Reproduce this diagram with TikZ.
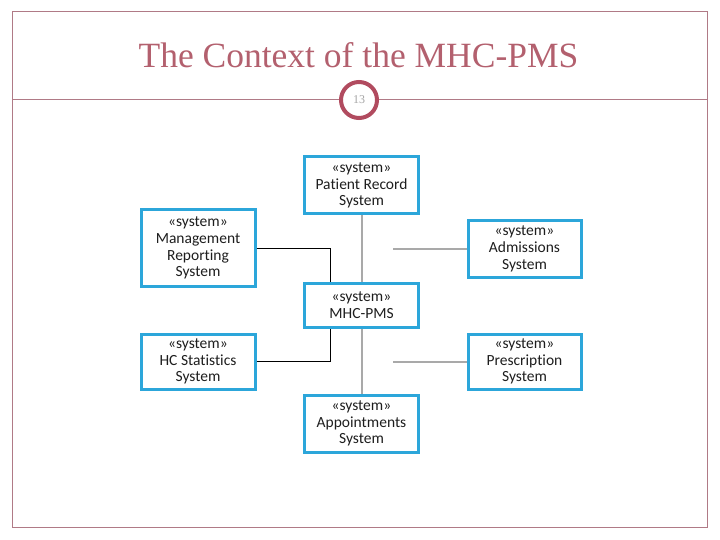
\documentclass[tikz,border=0pt]{standalone}
\usepackage{fontspec}
\usepackage{tikz}
\usetikzlibrary{positioning,calc}
\newfontfamily\titlefont{Liberation Serif}
\newfontfamily\boxfont[Ligatures=NoCommon]{Carlito}
\definecolor{rose}{HTML}{B3606E}
\definecolor{roseLine}{HTML}{B07A86}
\definecolor{roseRing}{HTML}{B14B5F}
\definecolor{sysBlue}{HTML}{2CA6DA}
\definecolor{wireGray}{HTML}{A9A9A9}
\definecolor{ink}{HTML}{1E1E1E}
\tikzset{
  sysbox/.style={rectangle, draw=sysBlue, line width=3pt, fill=white, align=center,
    minimum width=114pt, minimum height=57pt, inner sep=1pt, text=ink,
    font=\boxfont\fontsize{15.5}{16.8}\selectfont},
  lbl/.style={font=\titlefont, text=rose},
}
\begin{document}
\begin{tikzpicture}[x=1pt, y=-1pt,
  wire/.style={wireGray, line width=2pt},
  link/.style={black, line width=0.9pt}]
\useasboundingbox (0,0) rectangle (720,540);
% slide frame and title
\draw[roseLine, line width=1pt] (12,12) rectangle (707,527);
\node[lbl, font=\titlefont\fontsize{35.5}{38}\selectfont] (title) at (358.5,55) {The Context of the MHC-PMS};
\node[circle, draw=roseRing, line width=4pt, fill=white, minimum size=36pt, inner sep=0pt,
  text=gray!70, font=\titlefont\fontsize{12}{12}\selectfont] (page) at (359,100) {13};
\coordinate (ruleL) at (12,100); \coordinate (ruleR) at (707,100);
\draw[roseLine, line width=1pt] (ruleL) -- (page.west);
\draw[roseLine, line width=1pt] (page.east) -- (ruleR);
% systems
\node[sysbox] (prs) at (361.5,185.5) {«system»\\Patient Record\\System};
\node[sysbox, minimum height=76pt] (mgr) at (198,248) {«system»\\Management\\Reporting\\System};
\node[sysbox, minimum height=56pt, minimum width=113pt] (adm) at (524.5,249) {«system»\\Admissions\\System};
\node[sysbox, minimum height=44pt] (mhc) at (361.5,305) {«system»\\MHC-PMS};
\node[sysbox, minimum height=55pt] (hcs) at (198,361.5) {«system»\\HC Statistics\\System};
\node[sysbox, minimum height=55pt, minimum width=113pt] (pre) at (524.5,361.5) {«system»\\Prescription\\System};
\node[sysbox] (app) at (361.5,423.5) {«system»\\Appointments\\System};
% connectors
\draw[wire] (prs.south) -- (mhc.north);
\draw[wire] (mhc.south) -- (app.north);
\coordinate (admEnd) at (393,248.5); \coordinate (preEnd) at (393,361.5);
\draw[wire] (adm.west |- admEnd) -- (admEnd);
\draw[wire] (pre.west) -- (preEnd);
\draw[link] (mgr.east) -| ([xshift=-31.5pt]mhc.north);
\draw[link] (hcs.east) -| ([xshift=-31.5pt]mhc.south);
\end{tikzpicture}
\end{document}
